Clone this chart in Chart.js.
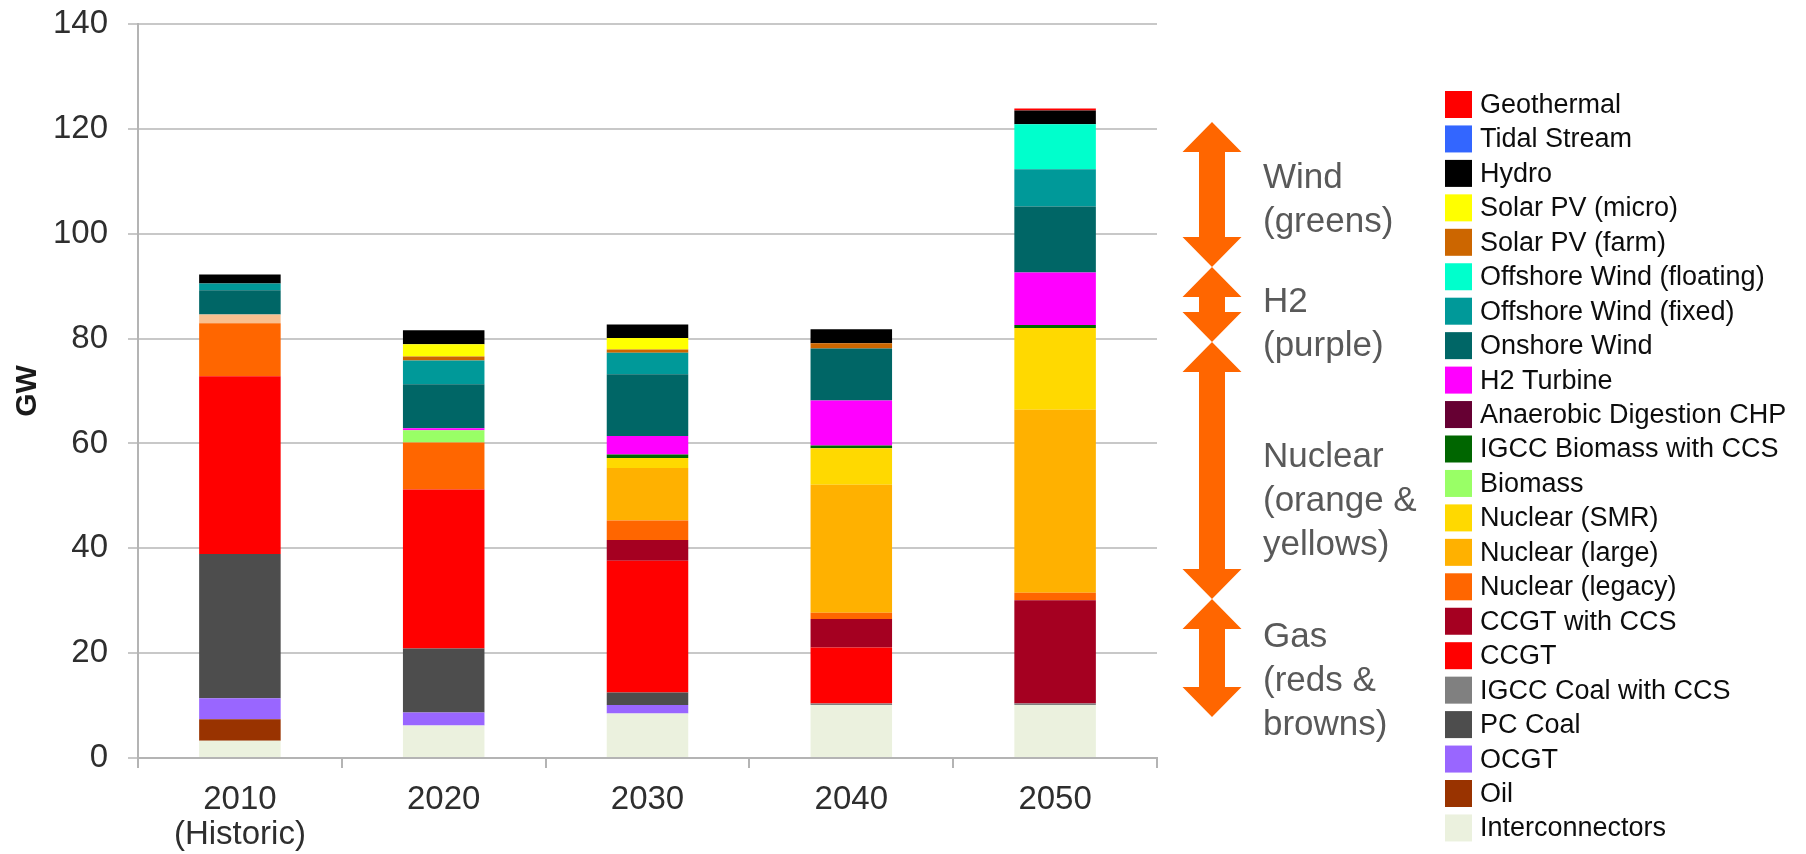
<!DOCTYPE html>
<html>
<head>
<meta charset="utf-8">
<title>Capacity mix 2010-2050</title>
<script src="https://cdn.jsdelivr.net/npm/chart.js@4.4.1/dist/chart.umd.min.js"></script>
<style>
  html, body { margin: 0; padding: 0; background: #fff; }
  #wrap { width: 1806px; height: 854px; }
</style>
</head>
<body>
<div id="wrap"><canvas id="chart" width="1806" height="854"></canvas></div>
<script>
const FONT = "'Liberation Sans', Arial, sans-serif";

const YEARS = [['2010', '(Historic)'], '2020', '2030', '2040', '2050'];
const Y_TICKS = [0, 20, 40, 60, 80, 100, 120, 140];

// installed capacity in GW, listed from the bottom of the stack up
const interconnectors = [3.3, 6.2, 8.5, 10.1, 10.1];
const oil = [4.1, 0, 0, 0, 0];
const ocgt = [4.0, 2.5, 1.6, 0, 0];
const pcCoal = [27.5, 12.2, 2.4, 0, 0];
const igccCoal = [0, 0, 0, 0.3, 0.3];
const ccgt = [33.9, 30.3, 25.1, 10.7, 0];
const ccgtCcs = [0, 0, 4.0, 5.4, 19.7];
const nuclearLegacy = [10.1, 9.0, 3.7, 1.2, 1.4];
const otherBand = [1.7, 0, 0, 0, 0];   // peach band in 2010, not in the key
const nuclearLarge = [0, 0, 10.0, 24.4, 34.9];
const nuclearSmr = [0, 0, 1.9, 7.0, 15.6];
const biomass = [0, 2.3, 0, 0, 0];
const igccBiomass = [0, 0, 0.7, 0.5, 0.6];
const adChp = [0, 0, 0, 0, 0];
const h2Turbine = [0, 0.4, 3.5, 8.6, 10.0];
const onshoreWind = [4.6, 8.4, 11.8, 9.9, 12.6];
const offshoreFixed = [1.3, 4.5, 4.1, 0, 7.1];
const offshoreFloating = [0, 0, 0, 0, 8.6];
const solarFarm = [0, 0.8, 0.6, 1.0, 0];
const solarMicro = [0, 2.3, 2.2, 0, 0];
const hydro = [1.7, 2.7, 2.6, 2.7, 2.6];
const tidalStream = [0, 0, 0, 0, 0];
const geothermal = [0, 0, 0, 0, 0.4];

const series = [
    ['Interconnectors', interconnectors, '#EBF1DE'],
    ['Oil', oil, '#993300'],
    ['OCGT', ocgt, '#9966FF'],
    ['PC Coal', pcCoal, '#4D4D4D'],
    ['IGCC Coal with CCS', igccCoal, '#808080'],
    ['CCGT', ccgt, '#FF0000'],
    ['CCGT with CCS', ccgtCcs, '#A50021'],
    ['Nuclear (legacy)', nuclearLegacy, '#FF6600'],
    ['Other', otherBand, '#F9BF8F'],
    ['Nuclear (large)', nuclearLarge, '#FFB100'],
    ['Nuclear (SMR)', nuclearSmr, '#FFD900'],
    ['Biomass', biomass, '#99FF66'],
    ['IGCC Biomass with CCS', igccBiomass, '#006600'],
    ['Anaerobic Digestion CHP', adChp, '#660033'],
    ['H2 Turbine', h2Turbine, '#FF00FF'],
    ['Onshore Wind', onshoreWind, '#006666'],
    ['Offshore Wind (fixed)', offshoreFixed, '#009999'],
    ['Offshore Wind (floating)', offshoreFloating, '#00FFCC'],
    ['Solar PV (farm)', solarFarm, '#CC6600'],
    ['Solar PV (micro)', solarMicro, '#FFFF00'],
    ['Hydro', hydro, '#000000'],
    ['Tidal Stream', tidalStream, '#3366FF'],
    ['Geothermal', geothermal, '#FF0000']
];

// key on the right, top row first; the peach band has no entry
const legendOrder = series.slice().reverse().filter(s => s[0] !== 'Other');

const notes = [
    { top: 122, bottom: 267, lines: ['Wind', '(greens)'], y: 178 },
    { top: 267, bottom: 342, lines: ['H2', '(purple)'], y: 302 },
    { top: 342, bottom: 599, lines: ['Nuclear', '(orange &', 'yellows)'], y: 457 },
    { top: 599, bottom: 717, lines: ['Gas', '(reds &', 'browns)'], y: 637 }
];

function drawArrow(ctx, cx, top, bottom){
    const head = 30, headHalf = 29.5, shaftHalf = 13;
    ctx.beginPath();
    ctx.moveTo(cx, top);
    ctx.lineTo(cx + headHalf, top + head);
    ctx.lineTo(cx + shaftHalf, top + head);
    ctx.lineTo(cx + shaftHalf, bottom - head);
    ctx.lineTo(cx + headHalf, bottom - head);
    ctx.lineTo(cx, bottom);
    ctx.lineTo(cx - headHalf, bottom - head);
    ctx.lineTo(cx - shaftHalf, bottom - head);
    ctx.lineTo(cx - shaftHalf, top + head);
    ctx.lineTo(cx - headHalf, top + head);
    ctx.closePath();
    ctx.fill();
}

const sidePanel = {
    id: 'sidePanel',
    afterDraw(chart){
        const ctx = chart.ctx;
        ctx.save();

        // arrows and group notes
        ctx.fillStyle = '#FF6600';
        notes.forEach(n => drawArrow(ctx, 1212, n.top, n.bottom));
        ctx.fillStyle = '#595959';
        ctx.font = '35px ' + FONT;
        ctx.textBaseline = 'middle';
        ctx.textAlign = 'left';
        notes.forEach(n => {
            n.lines.forEach((t, i) => ctx.fillText(t, 1263, n.y + i * 44));
        });

        // key
        ctx.font = '27px ' + FONT;
        legendOrder.forEach((s, i) => {
            const cy = 104.5 + i * 34.45;
            ctx.fillStyle = s[2];
            ctx.fillRect(1445, cy - 13.5, 27, 27);
            ctx.fillStyle = '#0d0d0d';
            ctx.fillText(s[0], 1480, cy + 1);
        });
        ctx.restore();
    }
};

const datasets = series.map(s => ({
    label: s[0],
    data: s[1],
    backgroundColor: s[2],
    borderWidth: 0,
    barPercentage: 0.4,
    categoryPercentage: 1.0
}));

const config = {
    type: 'bar',
    data: { labels: YEARS, datasets: datasets },
    options: {
        responsive: false,
        animation: false,
        devicePixelRatio: 1,
        layout: { padding: { top: 24, right: 649, left: 0, bottom: 0 } },
        plugins: {
            legend: { display: false },
            tooltip: { enabled: false },
            title: { display: false }
        },
        scales: {
            x: {
                stacked: true,
                grid: {
                    drawOnChartArea: false,
                    drawTicks: true,
                    tickLength: 10,
                    color: '#b4b4b4',
                    lineWidth: 2,
                    offset: true
                },
                border: { color: '#b4b4b4', width: 2 },
                ticks: {
                    color: '#2e2e2e',
                    font: { family: FONT, size: 33, lineHeight: 1.05 },
                    padding: 15,
                    maxRotation: 0,
                    autoSkip: false
                },
                afterFit: s => { s.height = 96; }
            },
            y: {
                stacked: true,
                min: 0,
                max: 140,
                afterBuildTicks: s => { s.ticks = Y_TICKS.map(v => ({ value: v })); },
                grid: { color: '#c8c8c8', lineWidth: 2, tickLength: 10 },
                border: { color: '#b4b4b4', width: 2 },
                ticks: {
                    color: '#2e2e2e',
                    font: { family: FONT, size: 33 },
                    padding: 20
                },
                title: {
                    display: true,
                    text: 'GW',
                    color: '#1a1a1a',
                    font: { family: FONT, size: 30, weight: 'bold' },
                    padding: { top: 10, bottom: 0 }
                },
                afterFit: s => {
                    s.width = 138;
                    s.paddingTop = 0;
                    s.paddingBottom = 0;
                }
            }
        }
    },
    plugins: [sidePanel]
};

new Chart(document.getElementById('chart').getContext('2d'), config);
</script>
</body>
</html>
